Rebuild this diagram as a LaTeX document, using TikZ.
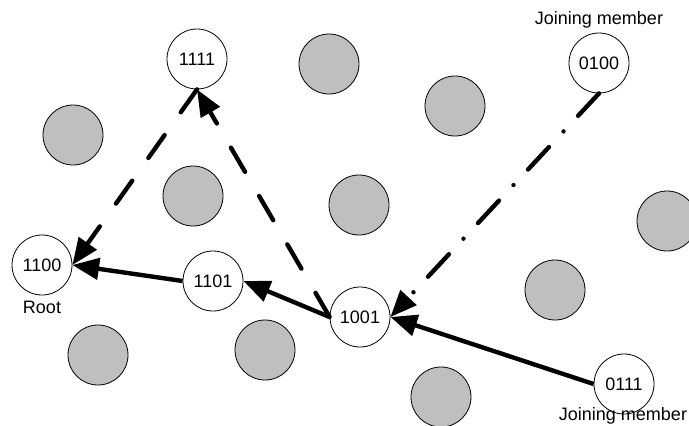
\documentclass[tikz,border=0pt]{standalone}
\usepackage{fontspec}
\setmainfont{Liberation Sans}
\usetikzlibrary{arrows.meta}
\begin{document}
\begin{tikzpicture}[x=0.75pt,y=-0.75pt,
  member/.style={circle,draw=black,line width=0.6pt,fill=white,minimum size=45pt,inner sep=0pt,font=\fontsize{13.5}{15}\selectfont},
  other/.style={circle,draw=black,line width=0.6pt,fill=black!25,minimum size=45pt,inner sep=0pt},
  lbl/.style={font=\fontsize{13.5}{15}\selectfont,inner sep=0pt},
  link/.style={line width=3.3pt,-{Triangle[length=20pt,width=16pt]}},
  dashlink/.style={link,line cap=round,dash pattern=on 21pt off 21pt},
  dashdotlink/.style={link,line cap=round,dash pattern=on 23pt off 16pt on 0pt off 16pt}
]
\useasboundingbox (0,0) rectangle (689,425);
\begin{scope}
\clip (0,0) rectangle (689,425);
% other (grey) nodes
\node[other] (g1) at (73,135) {};
\node[other] (g2) at (193,196) {};
\node[other] (g3) at (329,64) {};
\node[other] (g4) at (455,106) {};
\node[other] (g5) at (359,205) {};
\node[other] (g6) at (667,221) {};
\node[other] (g7) at (555,290) {};
\node[other] (g8) at (98,355) {};
\node[other] (g9) at (265,350) {};
\node[other] (g10) at (441,397) {};
\end{scope}
% members
\node[member] (n1100) at (42,265) {1100};
\node[member] (n1101) at (213,281) {1101};
\node[member] (n1001) at (360,317) {1001};
\node[member] (n1111) at (197,59) {1111};
\node[member] (n0100) at (599,63) {0100};
\node[member] (n0111) at (624,384) {0111};
% labels
\node[lbl] (root) at (42,307) {Root};
\node[lbl] (jm1) at (599,20) {Joining member};
\node[lbl,anchor=south] (jm2) at (623,424) {Joining member};
% connectors
\draw[link] (n1101.west) -- (n1100.east);
\draw[link] (n1001.west) -- (n1101.east);
\draw[link] (n0111.west) -- (n1001.east);
\draw[dashlink] (n1001.west) -- (n1111.south);
\draw[dashlink] (n1111.south) -- (n1100.east);
\draw[dashdotlink] (n0100.south) -- (n1001.east);
\end{tikzpicture}
\end{document}
